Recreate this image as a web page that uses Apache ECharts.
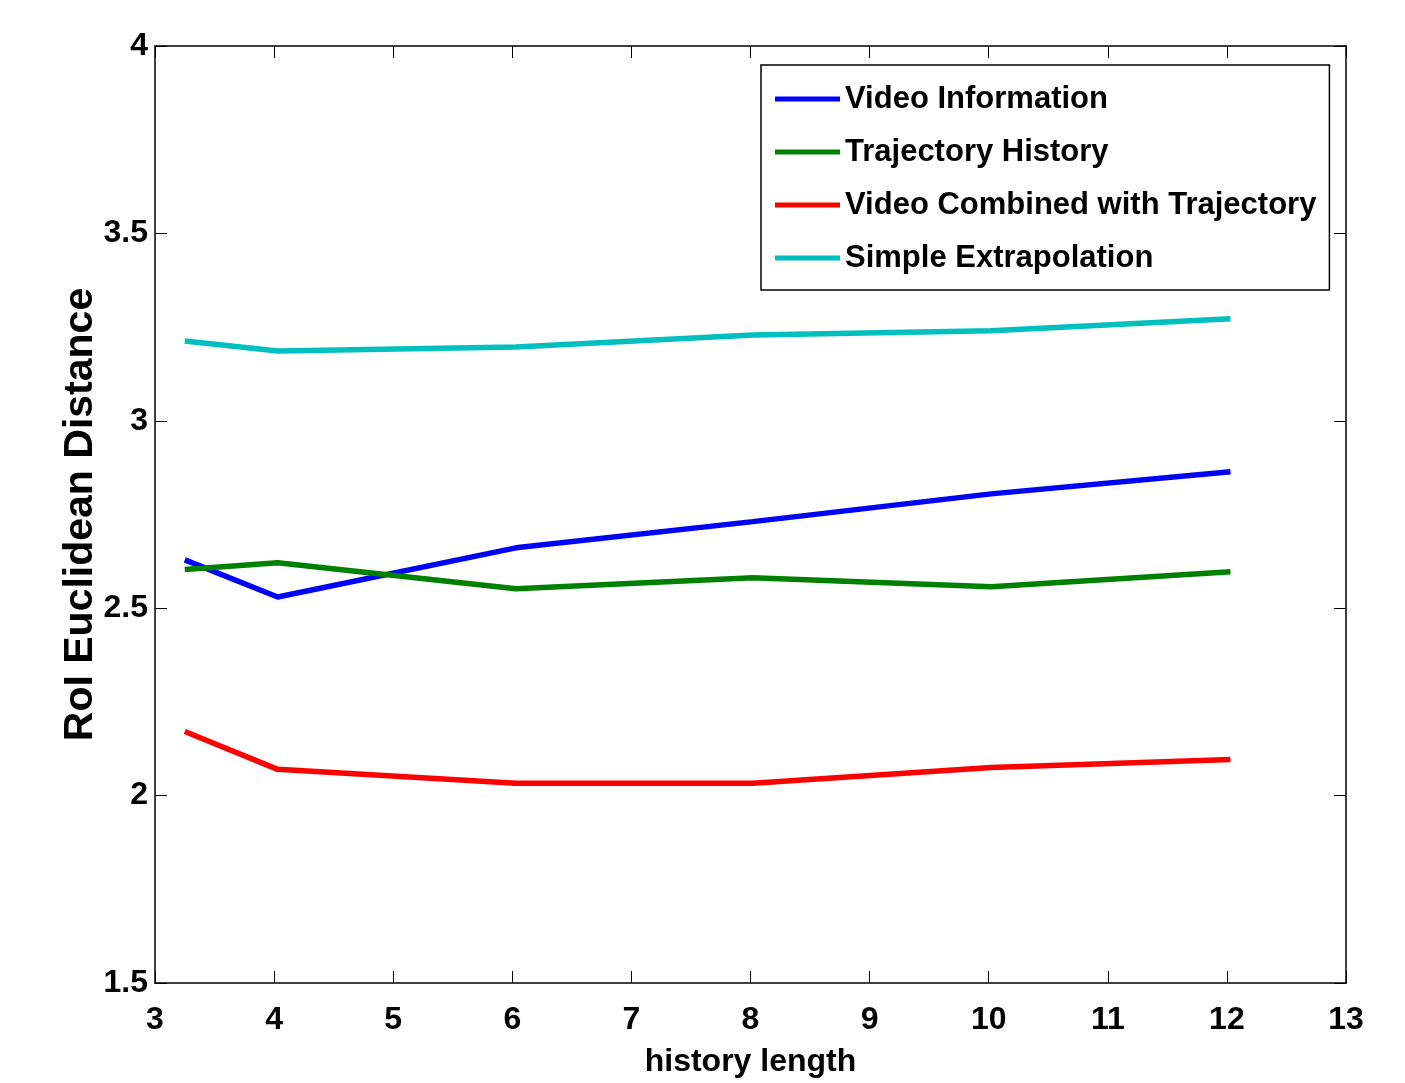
<!DOCTYPE html>
<html>
<head>
<meta charset="utf-8">
<script src="https://cdn.jsdelivr.net/npm/echarts@6/dist/echarts.min.js"></script>
<style>
html,body{margin:0;padding:0;background:#fff;}
#main{width:1405px;height:1083px;}
</style>
</head>
<body>
<div id="main"></div>
<script>
var chart = echarts.init(document.getElementById('main'));

// history length of each point
var historyLen = [3.25, 4.03, 6.03, 8.02, 10.02, 12.03];
var videoInfo = [2.629, 2.530, 2.661, 2.731, 2.805, 2.864];
var trajHist = [2.603, 2.621, 2.552, 2.581, 2.557, 2.597];
var combined = [2.171, 2.070, 2.033, 2.033, 2.075, 2.096];
var extrap = [3.213, 3.186, 3.197, 3.229, 3.240, 3.272];
var names = ['Video Information', 'Trajectory History', 'Video Combined with Trajectory', 'Simple Extrapolation'];
var colors = ['#0000ff', '#008000', '#ff0000', '#00bfbf'];

var FONT = '"Liberation Sans", Arial, sans-serif';

function pairs(ys) {
    var out = [];
    for (var i = 0; i < ys.length; i++) out.push([historyLen[i], ys[i]]);
    return out;
}

var allData = [videoInfo, trajHist, combined, extrap];
var series = [];
for (var k = 0; k < 4; k++) {
    series.push({
        name: names[k],
        type: 'line',
        data: pairs(allData[k]),
        symbol: 'none',
        lineStyle: {width: 5.5, color: colors[k]},
        itemStyle: {color: colors[k]},
        xAxisIndex: 0, yAxisIndex: 0
    });
}

var axisLine = {show: true, lineStyle: {color: '#000', width: 1.5}};
var tick = {inside: true, length: 12, lineStyle: {color: '#000', width: 1}};

var option = {
    backgroundColor: '#fff',
    animation: false,
    grid: {left: 155, right: 59, top: 46, bottom: 99, containLabel: false},
    legend: {
        orient: 'vertical',
        left: 761, top: 65,
        padding: [12, 13, 10, 14],
        borderColor: '#000', borderWidth: 1.5,
        backgroundColor: '#fff',
        itemWidth: 65, itemHeight: 5,
        itemGap: 9,
        icon: 'rect',
        data: names,
        textStyle: {color: '#000', fontFamily: FONT, fontWeight: 'bold', fontSize: 31, lineHeight: 44}
    },
    xAxis: [{
        type: 'value', min: 3, max: 13, interval: 1,
        name: 'history length', nameLocation: 'middle', nameGap: 63,
        nameTextStyle: {color: '#000', fontFamily: FONT, fontWeight: 'bold', fontSize: 32},
        axisLine: axisLine,
        axisTick: tick,
        axisLabel: {color: '#000', fontFamily: FONT, fontWeight: 'bold', fontSize: 32, margin: 21},
        splitLine: {show: false}
    }, {
        type: 'value', min: 3, max: 13, interval: 1, position: 'top',
        axisLine: axisLine,
        axisTick: tick,
        axisLabel: {show: false},
        splitLine: {show: false}
    }],
    yAxis: [{
        type: 'value', min: 1.5, max: 4, interval: 0.5,
        name: 'RoI Euclidean Distance', nameLocation: 'middle', nameGap: 54,
        nameMoveOverlap: false,
        nameTextStyle: {color: '#000', fontFamily: FONT, fontWeight: 'bold', fontSize: 41},
        axisLine: axisLine,
        axisTick: tick,
        axisLabel: {color: '#000', fontFamily: FONT, fontWeight: 'bold', fontSize: 32, margin: 7},
        splitLine: {show: false}
    }, {
        type: 'value', min: 1.5, max: 4, interval: 0.5, position: 'right',
        axisLine: axisLine,
        axisTick: tick,
        axisLabel: {show: false},
        splitLine: {show: false}
    }],
    series: series
};

chart.setOption(option);
</script>
</body>
</html>
